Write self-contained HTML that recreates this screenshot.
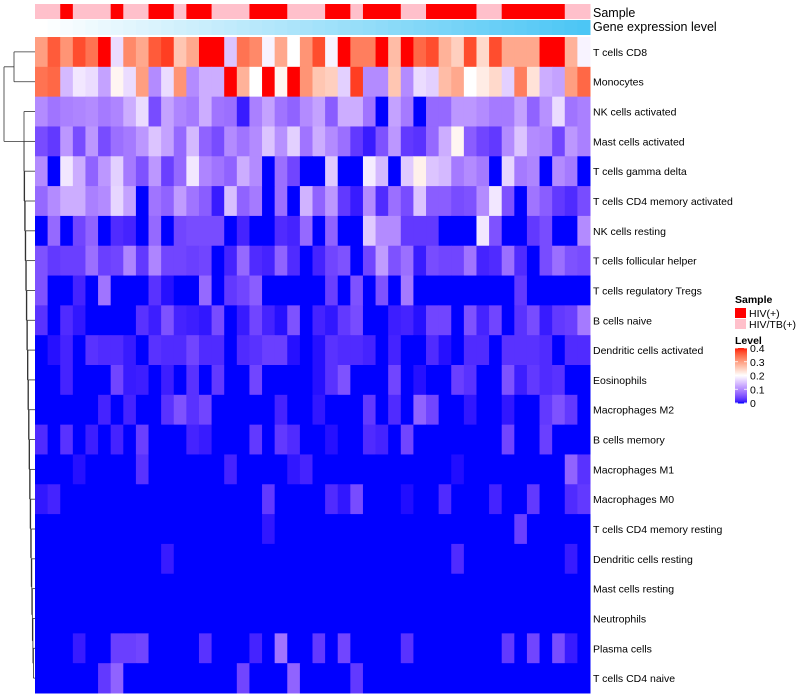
<!DOCTYPE html>
<html><head><meta charset="utf-8">
<style>
body{margin:0;background:#fff;font-family:"Liberation Sans",sans-serif;}
#wrap{position:relative;width:800px;height:700px;overflow:hidden;}
svg text{font-family:"Liberation Sans",sans-serif;}
</style></head>
<body>
<div id="wrap">
<svg id="chart" width="800" height="700"></svg>
</div>
<script>
const rowLabels = ["T cells CD8","Monocytes","NK cells activated","Mast cells activated","T cells gamma delta","T cells CD4 memory activated","NK cells resting","T cells follicular helper","T cells regulatory  Tregs","B cells naive","Dendritic cells activated","Eosinophils","Macrophages M2","B cells memory","Macrophages M1","Macrophages M0","T cells CD4 memory resting","Dendritic cells resting","Mast cells resting","Neutrophils","Plasma cells","T cells CD4 naive"];
const sampleGroups = [1,1,0,1,1,1,0,1,1,0,0,1,0,0,1,1,1,0,0,0,1,1,1,0,0,1,0,0,0,1,1,0,0,0,0,1,1,0,0,0,0,0,1,1];
const sampleNames = ["HIV(+)","HIV/TB(+)"];
const legendTicks = [0,0.1,0.2,0.3,0.4];
const rowCD8 = [.3,.36,.31,.37,.34,.4,.17,.32,.29,.36,.38,.26,.29,.42,.42,.15,.34,.32,.19,.29,.2,.31,.37,.19,.4,.33,.33,.4,.27,.4,.35,.37,.28,.25,.37,.24,.37,.29,.29,.29,.4,.4,.28,.19];
const rowMono = [.34,.35,.14,.18,.17,.12,.21,.17,.3,.1,.17,.31,.1,.13,.13,.4,.28,.2,.4,.21,.4,.31,.26,.25,.16,.38,.1,.1,.26,.1,.17,.16,.27,.29,.2,.22,.24,.16,.33,.23,.13,.12,.3,.35];
const rowNKact = [.1,.08,.09,.095,.1,.085,.095,.13,.17,.045,.12,.095,.085,.13,.08,.075,.01,.09,.12,.08,.065,.1,.12,.06,.13,.13,.08,0,.12,.085,0,.07,.07,.11,.11,.1,.085,.085,.12,.065,.105,.17,.08,.09];
const rowMastAct = [.045,.03,.11,.045,.11,.045,.075,.085,.11,.15,.12,.07,.14,.065,.045,.1,.08,.1,.15,.105,.16,.08,.13,.1,.075,.03,.01,.05,.11,.03,.025,.07,.13,.21,.06,.04,.03,.1,.15,.1,.095,.04,.11,.09];
const rowGD = [.1,0,.18,.13,.065,.11,.16,.085,.05,.11,.035,.07,.18,.095,.08,.065,.13,.1,0,.075,.04,0,0,.155,0,0,.185,.14,0,.155,.215,.15,.14,.085,.1,.085,0,.165,.085,.095,0,.1,.085,0];
const rowCD4MA = [.07,.1,.13,.13,.09,.1,.165,.12,0,.08,.065,.115,.08,.06,.01,.145,.065,.085,0,.075,0,.135,.065,.11,.03,.01,.1,.02,.075,.045,.15,.06,.06,.045,.05,.1,.18,.05,0,.08,.06,.03,.02,.045];
const rowNKrest = [0,.07,0,.04,.065,0,.02,.015,0,.07,0,.04,.045,.045,.045,0,.015,0,0,.02,.015,.07,0,.065,0,0,.155,.1,.1,.03,.03,.03,0,0,0,.18,.05,0,0,.03,.045,0,0,.1];
const rowTfh = [.05,.03,.035,.035,.075,.035,.04,.095,.03,.095,.04,.04,.035,.04,0,.015,.07,.02,.015,.065,.02,0,.015,.04,.05,0,.04,.115,.05,.075,.01,.045,.04,.04,.08,.015,.02,.075,.02,0,.045,.075,.05,.045];
const rowTreg = [.05,0,0,.015,0,.08,0,0,0,.025,.005,0,0,.07,0,.03,.04,.06,0,0,0,0,0,.035,0,.05,0,.05,0,.085,0,0,0,0,0,0,0,0,.03,0,0,0,0,0];
const rowBnaive = [.025,0,.02,.008,0,0,0,0,.025,.012,.05,.015,.012,.008,.045,0,.01,.04,.015,.005,.05,0,.015,.008,.03,.045,0,0,.012,.015,.005,.04,.04,0,.05,.015,.04,0,.025,.045,.01,.03,.035,.085];
const rowDCact = [0,.005,.015,0,.025,.02,.02,.01,0,.025,.02,.02,.04,.02,.02,0,.02,.025,.035,.035,.005,0,.005,.025,.02,.02,.015,0,.015,0,0,.02,.005,0,.02,.02,0,.025,.025,.025,.02,0,.02,.02];
const rowEos = [0,0,.015,0,0,0,.04,.01,.012,0,.012,0,.025,0,.03,0,0,.04,0,0,0,0,.005,.025,.05,0,0,0,.04,0,.005,0,0,.035,.025,0,0,.05,.012,.03,.02,.025,0,0];
const rowM2 = [0,0,0,0,0,.015,0,.015,0,0,.025,.05,.025,.04,0,0,0,0,0,.015,0,0,.008,0,0,0,.03,0,.02,0,.065,.04,0,0,.008,0,0,.008,0,0,.03,.05,.03,0];
const rowBmem = [.02,0,.025,0,.012,0,.015,0,.035,0,0,0,.015,.01,0,0,0,.03,0,.03,.02,0,0,.005,0,0,.02,.015,0,.04,0,0,0,0,0,0,0,.04,0,0,.035,0,0,0];
const rowM1 = [0,0,0,.005,0,0,0,0,.025,0,0,0,0,0,0,.015,0,0,0,0,.008,.015,0,0,0,0,0,0,0,0,0,0,0,.004,0,0,0,0,0,0,0,0,.065,.025];
const rowM0 = [.008,.015,0,0,0,0,0,0,0,0,0,0,0,0,0,0,0,0,.03,0,0,0,0,.02,.008,.045,0,0,0,.004,0,0,.02,0,0,0,.015,0,0,.03,0,0,.02,.03];
const rowCD4MR = [0,0,0,0,0,0,0,0,0,0,0,0,0,0,0,0,0,0,.008,0,0,0,0,0,0,0,0,0,0,0,0,0,0,0,0,0,0,0,.035,0,0,0,0,0];
const rowDCrest = [0,0,0,0,0,0,0,0,0,0,.01,0,0,0,0,0,0,0,0,0,0,0,0,0,0,0,0,0,0,0,0,0,0,.02,0,0,0,0,0,0,0,0,.01,0];
const rowMastRest = [0,0,0,0,0,0,0,0,0,0,0,0,0,0,0,0,0,0,0,0,0,0,0,0,0,0,0,0,0,0,0,0,0,0,0,0,0,0,0,0,0,0,0,0];
const rowNeut = [0,0,0,0,0,0,0,0,0,0,0,0,0,0,0,0,0,0,0,0,0,0,0,0,0,0,0,0,0,0,0,0,0,0,0,0,0,0,0,0,0,0,0,0];
const rowPlasma = [0,0,0,.01,0,0,.035,.035,.04,0,0,0,0,.025,0,0,0,.015,0,.08,0,0,.03,0,.04,0,0,0,0,.025,0,0,0,0,0,0,0,.03,0,.04,0,.045,.01,0];
const rowCD4N = [0,0,0,0,0,.03,.065,0,0,0,0,0,0,0,0,0,.04,0,0,0,.065,0,0,0,0,.03,0,0,0,0,0,0,0,0,0,0,0,0,0,0,0,0,0,0];
const matrix = [rowCD8,rowMono,rowNKact,rowMastAct,rowGD,rowCD4MA,rowNKrest,rowTfh,rowTreg,rowBnaive,rowDCact,rowEos,rowM2,rowBmem,rowM1,rowM0,rowCD4MR,rowDCrest,rowMastRest,rowNeut,rowPlasma,rowCD4N];

const NS="http://www.w3.org/2000/svg";
const svg=document.getElementById('chart');
const X0=35,X1=590,Y0=37,Y1=693;
const nCol=44,nRow=rowLabels.length;
const cw=(X1-X0)/nCol, rh=(Y1-Y0)/nRow;
function xPos(i){return X0+i*cw;}
function yPos(j){return Y0+j*rh;}
function mk(tag,attrs){const e=document.createElementNS(NS,tag);for(const k in attrs)e.setAttribute(k,attrs[k]);svg.appendChild(e);return e;}
function toLin(c){c/=255;return c<=0.04045?c/12.92:Math.pow((c+0.055)/1.055,2.4);}
function toSrgb(c){c=c<=0.0031308?12.92*c:1.055*Math.pow(c,1/2.4)-0.055;return Math.round(Math.max(0,Math.min(1,c))*255);}
function rgb2lab(r,g,b){r=toLin(r);g=toLin(g);b=toLin(b);
 let x=(0.4124*r+0.3576*g+0.1805*b)/0.95047,y=0.2126*r+0.7152*g+0.0722*b,z=(0.0193*r+0.1192*g+0.9505*b)/1.08883;
 const f=t=>t>0.008856?Math.cbrt(t):7.787*t+16/116;x=f(x);y=f(y);z=f(z);
 return [116*y-16,500*(x-y),200*(y-z)];}
function lab2rgb(L,a,bb){let y=(L+16)/116,x=a/500+y,z=y-bb/200;
 const fi=t=>t*t*t>0.008856?t*t*t:(t-16/116)/7.787;x=fi(x)*0.95047;y=fi(y);z=fi(z)*1.08883;
 const r=3.2406*x-1.5372*y-0.4986*z,g=-0.9689*x+1.8758*y+0.0415*z,b=0.0557*x-0.2040*y+1.0570*z;
 return `rgb(${toSrgb(r)},${toSrgb(g)},${toSrgb(b)})`;}
const labB=rgb2lab(0,0,255),labW=rgb2lab(255,255,255),labR=rgb2lab(255,0,0);
function color(v){v=Math.max(0,Math.min(0.4,v));let a,b,t;
 if(v<=0.2){a=labB;b=labW;t=v/0.2;}else{a=labW;b=labR;t=(v-0.2)/0.2;}
 return lab2rgb(a[0]+(b[0]-a[0])*t,a[1]+(b[1]-a[1])*t,a[2]+(b[2]-a[2])*t);}

const sampleColors=["#FF0000","#FFC0CB"];
sampleGroups.forEach((g,i)=>{
 const r=mk('rect',{x:xPos(i),y:4,width:cw+0.5,height:15,fill:sampleColors[g]});
 
 
});
for(let i=0;i<nCol;i++){
 const t=i/(nCol-1);
 const r=mk('rect',{x:xPos(i),y:20,width:cw+0.5,height:15,fill:`rgb(${Math.round(255-(255-76)*t)},${Math.round(255-(255-198)*t)},${Math.round(255-(255-245)*t)})`});
 
 
}
let t1=mk('text',{x:593,y:17,'font-size':12.5,fill:'#000'});t1.textContent='Sample';

let t2=mk('text',{x:593,y:31,'font-size':12.5,fill:'#000'});t2.textContent='Gene expression level';


matrix.forEach((row,j)=>{
 row.forEach((v,i)=>{
  const r=mk('rect',{x:xPos(i),y:yPos(j),width:cw+0.5,height:rh+0.5,fill:color(v)});
  
  
 });
 const t=mk('text',{x:593,y:yPos(j)+rh/2+4,'font-size':10.5,fill:'#000'});
 t.textContent=rowLabels[j];
 
 
});

const dg=document.createElementNS(NS,'g');dg.setAttribute('stroke','#333');dg.setAttribute('fill','none');dg.setAttribute('stroke-width','0.8');
svg.appendChild(dg);
function cy(j){return yPos(j)+rh/2;}
function line(x1,y1,x2,y2){const l=document.createElementNS(NS,'line');l.setAttribute('x1',x1);l.setAttribute('y1',y1);l.setAttribute('x2',x2);l.setAttribute('y2',y2);dg.appendChild(l);}
line(35,cy(0),14,cy(0));line(35,cy(1),14,cy(1));line(14,cy(0),14,cy(1));
const topMergeY=(cy(0)+cy(1))/2;
let curY=cy(21),curX=34;
line(35,cy(21),34,cy(21));
for(let j=20;j>=2;j--){
 const nx=Math.max(24,34-(21-j)*0.55);
 line(35,cy(j),nx,cy(j));
 line(curX,curY,nx,curY);
 line(nx,cy(j),nx,curY);
 curY=(cy(j)+curY)/2;curX=nx;
}
line(curX,curY,4,curY);line(14,topMergeY,4,topMergeY);line(4,topMergeY,4,curY);

let s=mk('text',{x:735,y:303,'font-size':10.5,'font-weight':'bold',fill:'#000'});s.textContent='Sample';

sampleNames.forEach((n,k)=>{
 const r=mk('rect',{x:735,y:308+k*11,width:11,height:10,fill:sampleColors[k]});
 
 const t=mk('text',{x:749,y:317+k*11,'font-size':10.5,fill:'#000'});t.textContent=n;
 
});
let lt=mk('text',{x:735,y:344,'font-size':10.5,'font-weight':'bold',fill:'#000'});lt.textContent='Level';

const LB0=403,LB1=348;
for(let k=0;k<55;k++){
 const v=0.4*k/55;
 const r=mk('rect',{x:735,y:LB0-(k+1)*(LB0-LB1)/55,width:12,height:(LB0-LB1)/55+0.5,fill:color(v)});
 
}
legendTicks.forEach(v=>{
 const y=LB0-(v/0.4)*(LB0-LB1);
 const t=mk('text',{x:750,y:y+4,'font-size':10.5,fill:'#000'});t.textContent=String(v);
 
 mk('line',{x1:735,y1:y,x2:738,y2:y,stroke:'#fff','stroke-width':0.8});
 mk('line',{x1:744,y1:y,x2:747,y2:y,stroke:'#fff','stroke-width':0.8});
});
</script>
</body></html>
